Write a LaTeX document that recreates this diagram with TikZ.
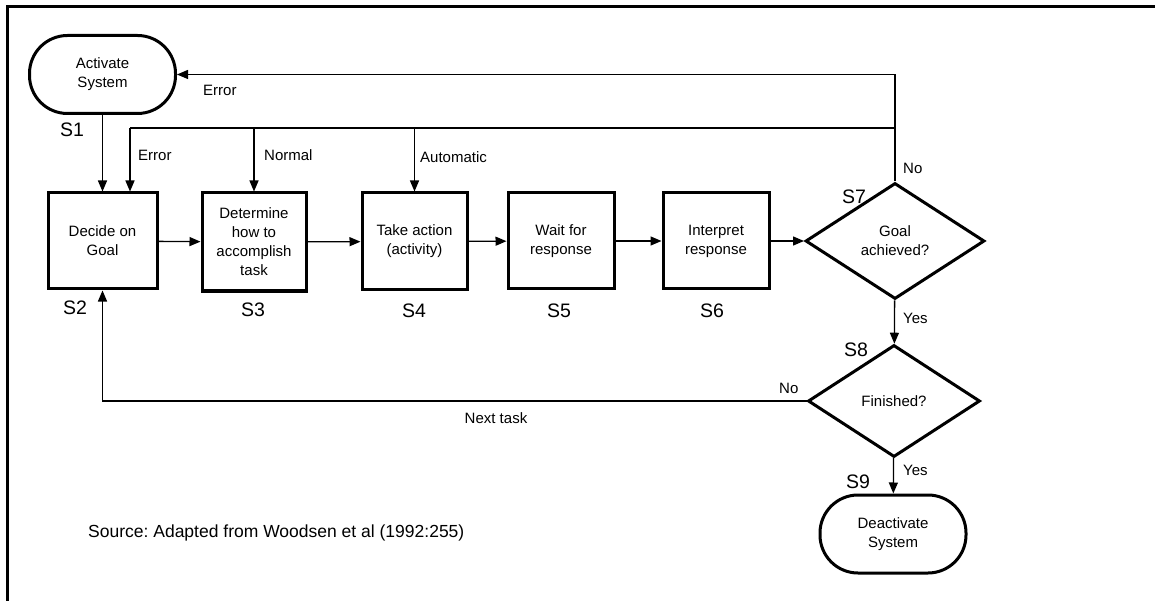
\documentclass[tikz,border=0pt]{standalone}
\usepackage{fontspec}
\setmainfont{Liberation Sans}
\frenchspacing
\usetikzlibrary{arrows.meta,shapes.geometric}
\begin{document}
\begin{tikzpicture}[x=1pt,y=-1pt,
  box/.style={draw,line width=3pt,minimum width=#1,minimum height=96pt,inner sep=0pt,align=center,font=\fontsize{15}{19}\selectfont},
  box/.default=105pt,
  term/.style={draw,line width=3pt,rounded corners=38pt,minimum width=146pt,minimum height=78pt,inner sep=0pt,align=center,font=\fontsize{15}{19}\selectfont},
  dec/.style={draw,diamond,line width=3pt,inner sep=0pt,align=center,font=\fontsize{15}{19}\selectfont},
  arr/.style={line width=1.3pt,-{Triangle[length=11pt,width=9pt]}},
  ln/.style={line width=1.3pt},
  lbl/.style={font=\fontsize{15}{18}\selectfont,inner sep=0pt},
  slbl/.style={font=\fontsize{19.5}{22}\selectfont,inner sep=0pt}]
\useasboundingbox (0,0) rectangle (1155,601);
\draw[line width=3pt] (7,601) -- (7,7) -- (1155,7);

\node[term] (act) at (102.5,74.5) {Activate\\System};
\node[box=109pt] (decide) at (102.5,241) {Decide on\\Goal};
\node[box=104pt,minimum height=98pt] (determine) at (254,242) {Determine\\how to\\accomplish\\task};
\node[box=105pt,minimum height=97pt] (take) at (414.5,241.5) {Take action\\(activity)};
\node[box=106pt] (wait) at (561,241) {Wait for\\response};
\node[box=106pt] (interp) at (716,241) {Interpret\\response};
\node[dec,minimum width=179pt,minimum height=116pt] (s7) at (895,241) {Goal\\achieved?};
\node[dec,minimum width=172pt,minimum height=112pt] (s8) at (894,401) {Finished?};
\node[term] (deact) at (893,534) {Deactivate\\System};

\node[slbl] (l1) at (72,130) {S1};
\node[slbl] (l2) at (75,308) {S2};
\node[slbl] (l3) at (253,310) {S3};
\node[slbl] (l4) at (414,311) {S4};
\node[slbl] (l5) at (559,311) {S5};
\node[slbl] (l6) at (712,311) {S6};
\node[slbl] (l7) at (854,197) {S7};
\node[slbl] (l8) at (856,350) {S8};
\node[slbl] (l9) at (858,482) {S9};

\coordinate (busR) at (895,128);
\coordinate (busL) at (130,128);

\draw[arr] (act) -- (decide);
\draw[arr] (s7.north) |- (act.east);
\draw[ln] (busR) -- (busL);
\draw[arr] (busL) -- (busL |- decide.north);
\draw[arr] (determine.north |- busL) -- (determine.north);
\draw[arr] (take.north |- busL) -- (take.north);
\draw[arr] (decide) -- (determine);
\draw[arr] (determine) -- (take);
\draw[arr] (take) -- (wait);
\draw[arr] (wait) -- (interp);
\draw[arr] (interp) -- (s7);
\draw[arr] (s7) -- (s8);
\draw[arr] (s8.west) -| (decide.south);
\draw[arr] (s8) -- (deact);

\node[lbl,anchor=west] (tErr) at (203,90) {Error};
\node[lbl,anchor=west] (tErr2) at (138,155) {Error};
\node[lbl,anchor=west] (tNorm) at (264,155) {Normal};
\node[lbl,anchor=west] (tAuto) at (420,157) {Automatic};
\node[lbl,anchor=west] (tNo1) at (903,168) {No};
\node[lbl,anchor=west] (tYes1) at (903,318) {Yes};
\node[lbl,anchor=west] (tNo2) at (779,388) {No};
\node[lbl] (tNext) at (496,418) {Next task};
\node[lbl,anchor=west] (tYes2) at (903,470) {Yes};
\node[font=\fontsize{17.5}{21}\selectfont,inner sep=0pt,anchor=west] (src) at (88,533) {Source: Adapted from Woodsen et al (1992:255)};
\end{tikzpicture}
\end{document}
